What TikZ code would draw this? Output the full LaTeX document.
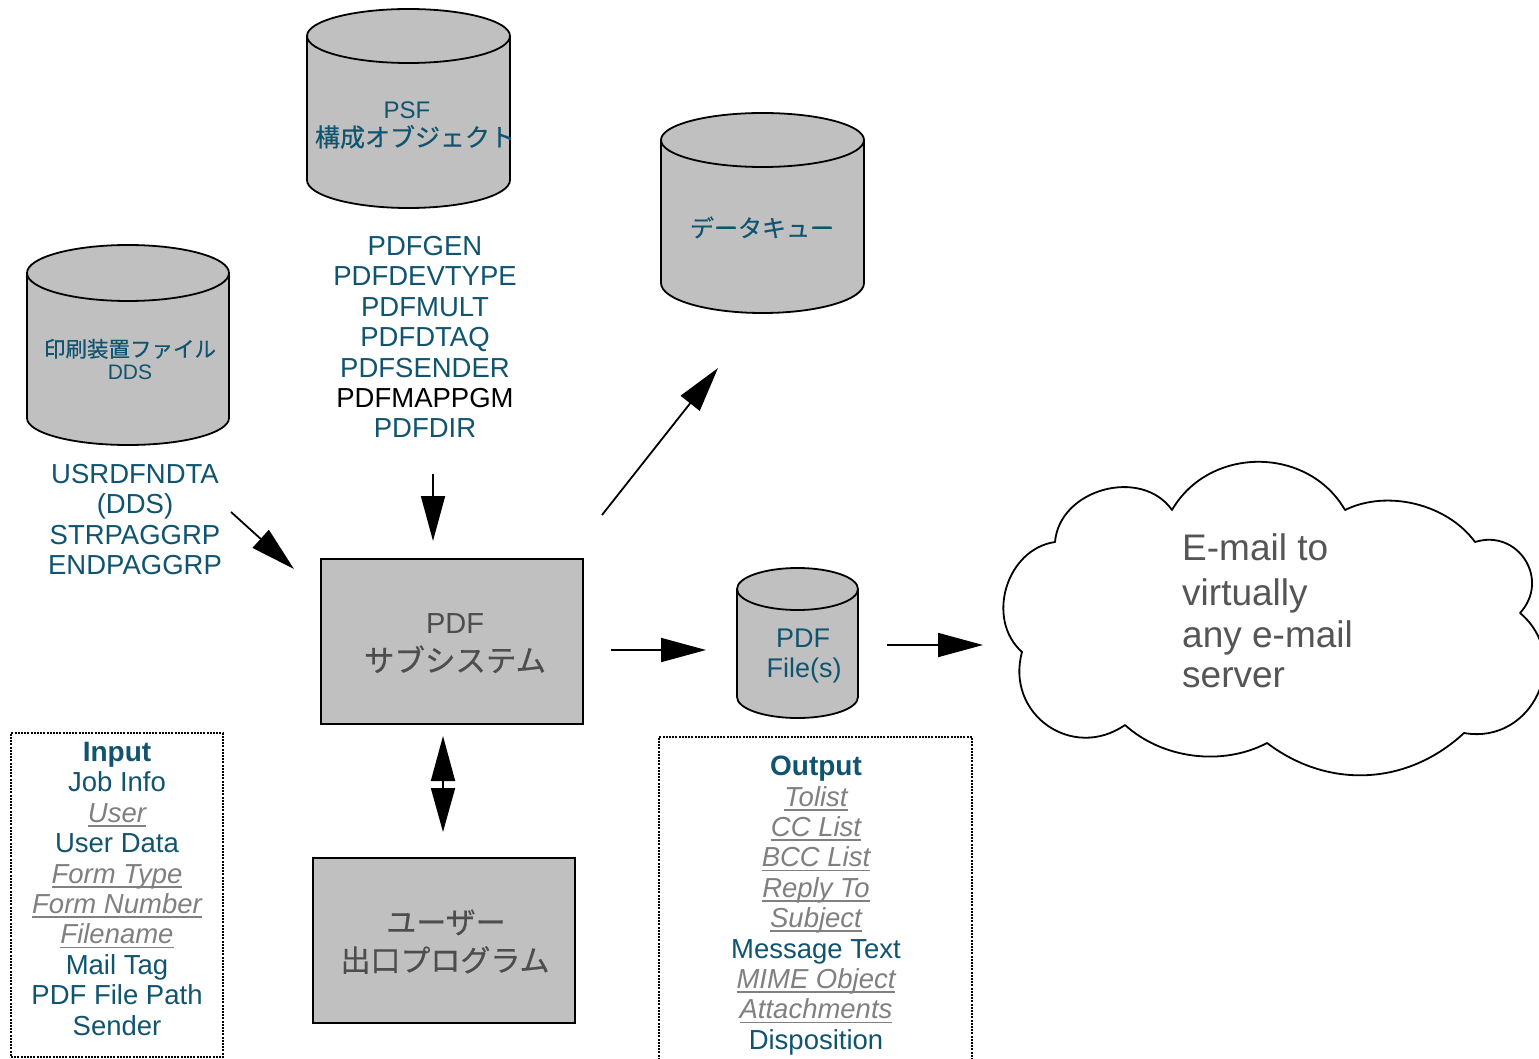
\documentclass[tikz,border=0pt]{standalone}
\usepackage{fontspec}
\setmainfont{Liberation Sans}
\newfontfamily\jpfont[FakeBold=0.5]{Noto Sans CJK JP}
\usetikzlibrary{arrows.meta}
\definecolor{ink}{HTML}{105470}
\definecolor{boxgray}{HTML}{C0C0C0}
\definecolor{dimtext}{HTML}{808080}
\definecolor{darktext}{HTML}{4D4D4D}
\definecolor{cloudtext}{HTML}{555555}
\newcommand\setsz[1]{\fontsize{#1}{#1}\selectfont}
% grey italic underlined entry
\newcommand\lnk[1]{{\color{dimtext}\itshape\setbox0\hbox{#1}\rlap{\rule[-4.5pt]{\wd0}{1.8pt}}\box0}}
% database drum: name, centre x, x radius, top rim y, bottom rim y, top y radius, bottom y radius
\newcommand\drum[7]{%
  \filldraw[drumline] (#2-#3,-#4) -- (#2-#3,-#5)
    arc[start angle=180,end angle=360,x radius=#3pt,y radius=#7pt]
    -- (#2+#3,-#4)
    arc[start angle=0,end angle=180,x radius=#3pt,y radius=#6pt] -- cycle;
  \draw[drumline,fill=none] (#2-#3,-#4)
    arc[start angle=180,end angle=360,x radius=#3pt,y radius=#6pt];
  \coordinate (#1) at (#2,{-(#4+#5)/2});
}
\begin{document}
\begin{tikzpicture}[x=1pt,y=1pt,
  drumline/.style={draw=black,fill=boxgray,line width=1.8pt,line join=round},
  solidbox/.style={draw=black,fill=boxgray,line width=1.8pt,inner sep=0pt,minimum width=262pt,minimum height=165pt},
  dotbox/.style={draw=black,line width=1.6pt,dash pattern=on 2pt off 1.2pt,inner sep=0pt},
  flow/.style={line width=1.8pt,-{Triangle[length=45pt,width=24pt]}},
  lbl/.style={inner sep=0pt,anchor=base},
  list/.style={inner sep=0pt,anchor=north,align=center,text=ink,font=\fontsize{27.5}{30.4}\selectfont},
]
\useasboundingbox[fill=white] (0,0) rectangle (1539,-1059);

% databases
\drum{psf}{408.5}{101.5}{36}{180}{27}{28}
\drum{dtaq}{762.5}{101.5}{140}{283}{27}{30}
\drum{prtf}{128}{101}{273}{418}{28}{27}
\drum{pdffiles}{797.5}{60.5}{589}{697}{21}{21}

\node[lbl,text=ink,font=\setsz{24}] (psft1) at (407,-118.6) {PSF};
\node[lbl,text=ink,font=\jpfont\setsz{25}] (psft2) at (415,-146.5) {構成オブジェクト};
\node[lbl,text=ink,font=\jpfont\setsz{24}] (dtaqt) at (762,-237) {データキュー};
\node[lbl,text=ink,font=\jpfont\setsz{21.5}] (prtft1) at (130,-357) {印刷装置ファイル};
\node[lbl,text=ink,font=\setsz{21}] (prtft2) at (130,-379.5) {DDS};
\node[lbl,text=ink,font=\setsz{27}] (pdft1) at (803,-647.7) {PDF};
\node[lbl,text=ink,font=\setsz{27}] (pdft2) at (804,-677.7) {File(s)};

% processing boxes
\node[solidbox] (pdfsys) at (452,-641.5) {};
\node[lbl,text=darktext,font=\setsz{29}] (pdfsyst1) at (455,-633.4) {PDF};
\node[lbl,text=darktext,font=\jpfont\setsz{30.5}] (pdfsyst2) at (455,-671.6) {サブシステム};
\node[solidbox] (userexit) at (444,-940.5) {};
\node[lbl,text=darktext,font=\jpfont\setsz{30}] (uxt1) at (446,-933.4) {ユーザー};
\node[lbl,text=darktext,font=\jpfont\setsz{30}] (uxt2) at (445,-971.4) {出口プログラム};

% parameter lists
\node[list] (psfparms) at (425,-236) {PDFGEN\\PDFDEVTYPE\\PDFMULT\\PDFDTAQ\\PDFSENDER\\{\color{black}PDFMAPPGM}\\PDFDIR};
\node[list] (ddsparms) at (135,-464) {USRDFNDTA\\(DDS)\\STRPAGGRP\\ENDPAGGRP};

% input and output panels
\node[dotbox,minimum width=212pt,minimum height=324pt] (inpanel) at (117,-895) {};
\node[list] (inlist) at (117,-742) {{\fontsize{28}{30.4}\selectfont\bfseries Input}\\Job Info\\\lnk{User}\\User Data\\\lnk{Form Type}\\\lnk{Form Number}\\\lnk{Filename}\\Mail Tag\\PDF File Path\\Sender};
\node[dotbox,minimum width=313pt,minimum height=330pt] (outpanel) at (815.5,-902) {};
\node[list] (outlist) at (816,-756) {{\fontsize{28}{30.4}\selectfont\bfseries Output}\\\lnk{Tolist}\\\lnk{CC List}\\\lnk{BCC List}\\\lnk{Reply To}\\\lnk{Subject}\\Message Text\\\lnk{MIME Object}\\\lnk{Attachments}\\Disposition};

% mail cloud
\draw[line width=1.8pt,fill=white,line join=round] (1172,-510)
  to[bend left=60,looseness=1.1] (1345,-510)
  to[bend left=40,looseness=0.9] (1475,-542)
  to[bend left=75,looseness=1.38] (1520,-613)
  to[bend left=75,looseness=1.34] (1464,-733)
  to[bend left=40] (1267,-743)
  to[bend left=35,looseness=0.9] (1125,-725)
  to[bend left=70,looseness=1.3] (1022,-652)
  to[bend left=65,looseness=1.1] (1055,-542)
  to[bend left=70,looseness=1.12] (1172,-510) -- cycle;
\node[lbl,anchor=base west,text=cloudtext,font=\setsz{37}] (cl1) at (1182,-560) {E-mail to};
\node[lbl,anchor=base west,text=cloudtext,font=\setsz{37}] (cl2) at (1182,-605) {virtually};
\node[lbl,anchor=base west,text=cloudtext,font=\setsz{37}] (cl3) at (1182,-647) {any e-mail};
\node[lbl,anchor=base west,text=cloudtext,font=\setsz{37}] (cl4) at (1182,-687) {server};

% flow arrows
\coordinate (a1s) at (231,-512);  \coordinate (a1e) at (294,-569);
\coordinate (a2s) at (433,-474);  \coordinate (a2e) at (433,-541);
\coordinate (a3s) at (602,-515);  \coordinate (a3e) at (718,-368);
\coordinate (a4s) at (611,-650);  \coordinate (a4e) at (706,-650);
\coordinate (a5s) at (887,-645);  \coordinate (a5e) at (983,-645);
\coordinate (a6s) at (443,-736);  \coordinate (a6e) at (443,-832);
\draw[flow] (a1s) -- (a1e);
\draw[flow] (a2s) -- (a2e);
\draw[flow] (a3s) -- (a3e);
\draw[flow] (a4s) -- (a4e);
\draw[flow] (a5s) -- (a5e);
\draw[flow,{Triangle[length=45pt,width=24pt]}-{Triangle[length=44pt,width=24pt]}] (a6s) -- (a6e);
\end{tikzpicture}
\end{document}
